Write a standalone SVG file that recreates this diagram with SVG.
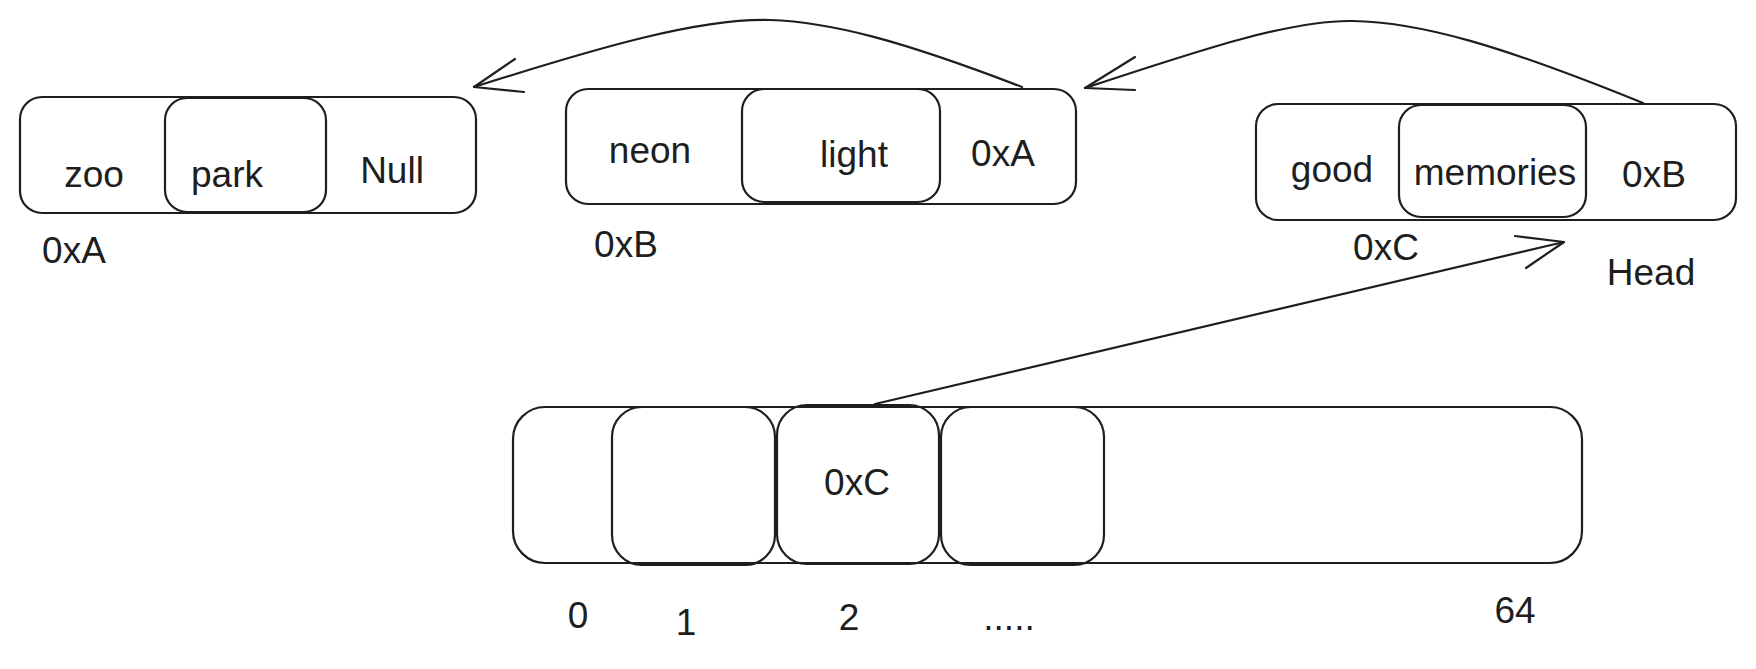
<svg xmlns="http://www.w3.org/2000/svg" width="1756" height="669" viewBox="0 0 1756 669">
<style>
.box{fill:none;stroke:#1e1e1e;stroke-width:2.2}
.ln{fill:none;stroke:#1e1e1e;stroke-width:2.2;stroke-linecap:round;stroke-linejoin:round}
text{font-family:"Liberation Sans",Arial,sans-serif;font-size:37px;fill:#1e1e1e;text-anchor:middle}
</style>
<rect width="1756" height="669" fill="#ffffff"/>
<g id="node-0xA">
<rect class="box" x="20" y="97" width="456" height="116" rx="22"/>
<rect class="box" x="165" y="98" width="161" height="114" rx="22"/>
<text x="94" y="187">zoo</text>
<text x="227" y="187">park</text>
<text x="392" y="183">Null</text>
<text x="74" y="263">0xA</text>
</g>
<g id="node-0xB">
<rect class="box" x="566" y="89" width="510" height="115" rx="22"/>
<rect class="box" x="742" y="89" width="198" height="113" rx="22"/>
<text x="650" y="163">neon</text>
<text x="854" y="167">light</text>
<text x="1003" y="166">0xA</text>
<text x="626" y="257">0xB</text>
</g>
<g id="node-0xC">
<rect class="box" x="1256" y="104" width="480" height="116" rx="22"/>
<rect class="box" x="1399" y="105" width="187" height="112" rx="22"/>
<text x="1332" y="182">good</text>
<text x="1495" y="185">memories</text>
<text x="1654" y="187">0xB</text>
<text x="1386" y="260">0xC</text>
<text x="1651" y="285">Head</text>
</g>
<g id="bucket-array">
<rect x="513" y="407" width="1069" height="156" rx="32" fill="#ffffff" stroke="#1e1e1e" stroke-width="2.2"/>
<rect class="box" x="612" y="407" width="163" height="158" rx="30"/>
<rect class="box" x="777" y="405" width="162" height="159" rx="30"/>
<rect class="box" x="941" y="407" width="163" height="158" rx="30"/>
<text x="857" y="495">0xC</text>
<text x="578" y="628">0</text>
<text x="686" y="635">1</text>
<text x="849" y="630">2</text>
<text x="1009" y="630">.....</text>
<text x="1515" y="623">64</text>
</g>
<g id="connectors">
<path class="ln" d="M1022,87 C900,40 830,22 770,20 C700,18 600,47 474,87"/>
<polyline class="ln" points="515,59 474,87 524,92"/>
<path class="ln" d="M1643,103 C1500,45 1420,22 1352,21 C1290,20 1200,50 1085,88"/>
<polyline class="ln" points="1135,57 1085,88 1135,90"/>
<path class="ln" d="M875,404 L1564,242"/>
<polyline class="ln" points="1515,236 1564,242 1526,268"/>
</g>
</svg>
